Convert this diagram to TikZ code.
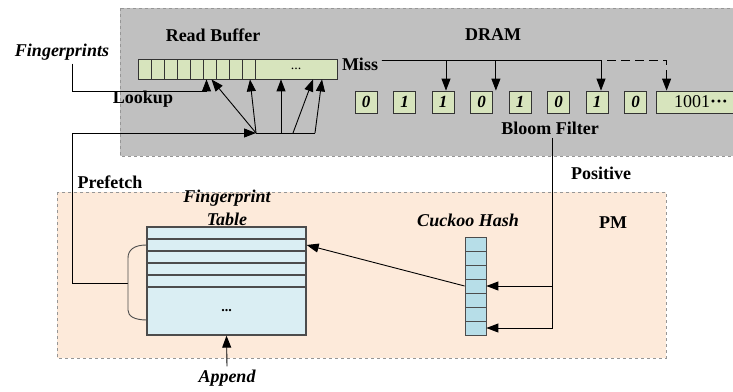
\documentclass[tikz,border=0pt]{standalone}
\usepackage{fontspec}
\setmainfont{Liberation Serif}
\usetikzlibrary{arrows.meta}
\definecolor{dramgray}{RGB}{192,192,192}
\definecolor{pmpeach}{RGB}{253,234,218}
\definecolor{bitgreen}{RGB}{215,228,189}
\definecolor{tabblue}{RGB}{218,238,243}
\definecolor{hashblue}{RGB}{183,222,232}
\definecolor{edgegray}{RGB}{150,150,150}

\begin{document}
\begin{tikzpicture}[x=1pt,y=-1pt,
  every node/.style={font=\fontsize{18}{23}\selectfont\bfseries},
  region/.style={draw=edgegray,dashed,line width=.8pt},
  cell/.style={draw=black!80,fill=bitgreen,minimum height=20pt,inner sep=0pt,line width=.8pt},
  bit/.style={cell,minimum width=22pt,minimum height=22pt,font=\fontsize{17}{17}\selectfont\bfseries\itshape},
  row/.style={draw=black!70,fill=tabblue,line width=1.3pt,minimum width=159pt,inner sep=0pt},
  slot/.style={draw=black!70,fill=hashblue,minimum width=21pt,minimum height=14pt,inner sep=0pt,line width=.8pt},
  arr/.style={-{Triangle[length=12pt,width=9pt]},line width=.9pt},
  lbl/.style={font=\fontsize{18}{23}\selectfont\bfseries\itshape}]
\useasboundingbox (0,0) rectangle (733,391);
\clip (0,0) rectangle (733,391);
\fill[white] (0,0) rectangle (733,391);

% memory regions
\draw[region,fill=dramgray] (120,8) rectangle (745,156);
\draw[region,fill=pmpeach] (57,192) rectangle (666,358);

% read buffer
\foreach \i in {0,...,8}
  \node[cell,minimum width=13pt] (c\i) at ({144.5+13*\i},69) {};
\node[cell,minimum width=82pt] (more) at (296,69) {\fontsize{14}{14}\selectfont\mdseries ...};

% bloom filter bits
\foreach \v [count=\i] in {0,1,1,0,1,0,1,0}
  \node[bit] (b\i) at ({366+38.5*(\i-1)},102) {\v};
\node[cell,minimum width=90pt,minimum height=22pt,font=\fontsize{18}{18}\selectfont] (vec) at (701,102) {1001{\bfseries ···}};

% fingerprint table
\foreach \i in {1,...,5}
  \node[row,minimum height=12pt] (r\i) at (226.5,{227+12*\i-6}) {};
\node[row,minimum height=48pt] (rest) at (226.5,311) {\fontsize{14}{14}\selectfont ...};

% cuckoo hash
\foreach \i in {1,...,7}
  \node[slot] (h\i) at (475.5,{237+14*\i-7}) {};

% labels
\node (rbuf) at (213,35) {Read Buffer};
\node (dram) at (493,35) {DRAM};
\node[lbl] (fp) at (62,52) {Fingerprints};
\node (lookup) at (143,99) {Lookup};
\node (miss) at (360,64) {Miss};
\node (prefetch) at (110,182) {Prefetch};
\node (bloom) at (550,128) {Bloom Filter};
\node (positive) at (601,173) {Positive};
\node[lbl,align=center] (fptitle) at (227,208) {Fingerprint\\Table};
\node[lbl] (cuckoo) at (468,220) {Cuckoo Hash};
\node (pm) at (613,223) {PM};
\node[lbl] (append) at (227,378) {Append};

% lookup
\coordinate (turn) at (72,91);
\draw[arr] ([xshift=10pt]fp.south) -- (turn) -| ([xshift=-3pt]c5.south);

% prefetch
\coordinate (hubA) at (256,133);
\coordinate (hubB) at (315,133);
\coordinate (bmid) at (128,283);
\coordinate (pf) at (72,283);
\draw[arr] (bmid) -- (pf) |- (hubA);
\draw[line width=.9pt] (hubA) -- (hubB);
\draw[arr] (hubA) -- ([xshift=2pt]c5.south);
\draw[arr] (hubA) -- ([xshift=1.5pt]c8.south);
\draw[arr] ([xshift=25pt]hubA) -- ([xshift=-15pt]more.south);
\draw[arr] ([xshift=37pt]hubA) -- ([xshift=17pt]more.south);
\draw[arr] (hubB) -- ([xshift=26pt]more.south);
\draw[line width=.9pt,black!70] (r2.west) .. controls (134,245) and (128,250) .. (128,258)
  -- (128,310) .. controls (128,316) and (134,320) .. (147,320);

% miss
\draw[arr] ([yshift=4pt]miss.east) -| ([xshift=3pt]b3.north);
\draw[arr] ([yshift=4pt]miss.east) -| ([xshift=3pt]b4.north east);
\draw[arr] ([yshift=4pt]miss.east) -| ([xshift=4pt]b7.north);
\coordinate (solidend) at (607,60);
\draw[arr,dash pattern=on 9pt off 5pt] (solidend) -| ([xshift=11pt]vec.north west);

% positive
\draw[arr] ([xshift=2pt]bloom.south) |- (h4.east);
\draw[arr] ([xshift=2pt]bloom.south) |- (h7.east);
\draw[arr] (h4.west) -- (r2.east);

% append
\draw[arr] (append.north) -- (rest.south);
\end{tikzpicture}
\end{document}
